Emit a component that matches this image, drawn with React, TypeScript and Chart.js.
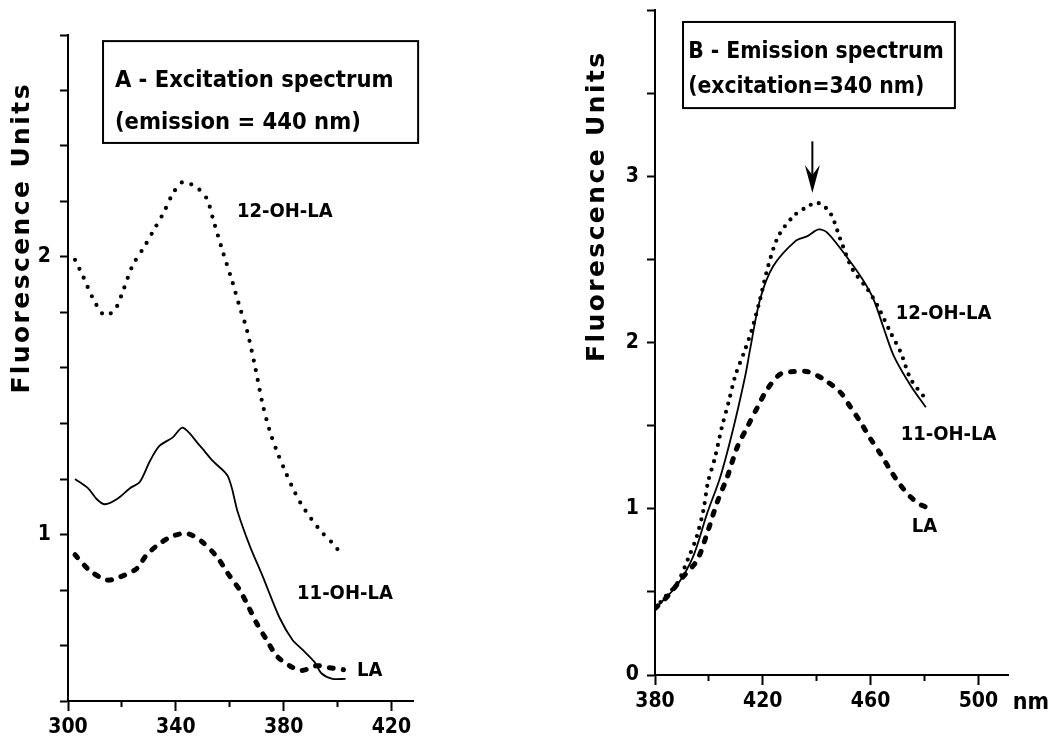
import React, { useEffect, useRef } from "react";
import { Chart, registerables } from "chart.js";

Chart.register(...registerables);

// ---------------- Panel A : excitation spectrum (emission = 440 nm) ----------------
const excX_12OH = [302.6, 305.6, 309.3, 313.5, 317.4, 320.5, 324, 328.5, 332, 335.5, 339, 342.6, 347.8, 351.5, 354, 357.4, 361, 363.7, 366.3, 369.3, 372.2, 374.8, 377.5, 380.5, 383.5, 386.5, 390, 394, 398, 402.2];
const excY_12OH = [1.99, 1.93, 1.85, 1.79, 1.81, 1.88, 1.97, 2.04, 2.1, 2.16, 2.23, 2.27, 2.25, 2.21, 2.13, 2.02, 1.91, 1.82, 1.74, 1.61, 1.47, 1.375, 1.3, 1.23, 1.165, 1.11, 1.06, 1.01, 0.97, 0.92];
const excX_11OH = [302.6, 307.4, 310.7, 313.7, 318.5, 323, 326.7, 330.4, 334, 338.9, 342.6, 348.9, 353.7, 359.3, 363, 367.4, 372.2, 378.5, 383.3, 387, 391.5, 394, 398.1, 403];
const excY_11OH = [1.2, 1.167, 1.127, 1.109, 1.13, 1.167, 1.19, 1.265, 1.32, 1.35, 1.385, 1.32, 1.265, 1.21, 1.08, 0.96, 0.85, 0.7, 0.62, 0.585, 0.54, 0.5, 0.48, 0.48];
const excX_LA = [302.6, 308.1, 314.4, 319.3, 325.5, 329.2, 334, 338.9, 344.4, 349.6, 355.2, 359.3, 363.7, 366.7, 370, 373.7, 377.4, 382.2, 386.7, 392.2, 397, 402.2];
const excY_LA = [0.927, 0.87, 0.836, 0.847, 0.877, 0.927, 0.967, 0.995, 1.003, 0.975, 0.92, 0.86, 0.8, 0.745, 0.68, 0.62, 0.563, 0.527, 0.51, 0.527, 0.52, 0.513];

// ---------------- Panel B : emission spectrum (excitation = 340 nm) ----------------
const emX_12OH = [380, 383.7, 388.2, 392.3, 395.5, 398, 399.6, 402.3, 404.8, 407.3, 409.8, 413.5, 416, 419, 422, 425.8, 431.4, 435.8, 440.3, 445, 448.8, 453.3, 458.9, 462.6, 467.4, 471.2, 474.9, 480.5];
const emY_12OH = [0.4, 0.47, 0.55, 0.7, 0.833, 0.994, 1.155, 1.31, 1.49, 1.64, 1.8, 1.96, 2.08, 2.26, 2.46, 2.64, 2.76, 2.81, 2.84, 2.78, 2.62, 2.44, 2.32, 2.22, 2.06, 1.94, 1.78, 1.66];
const emX_11OH = [380, 381.9, 388.2, 394.1, 399.4, 404.2, 409, 413.5, 415.3, 419, 423.9, 432.1, 436.6, 440.7, 444, 451.4, 457, 461.1, 465, 468.6, 474.9, 480.5];
const emY_11OH = [0.4, 0.43, 0.54, 0.71, 0.975, 1.19, 1.48, 1.8, 1.96, 2.26, 2.46, 2.61, 2.64, 2.68, 2.66, 2.51, 2.38, 2.26, 2.08, 1.92, 1.74, 1.61];
const emX_LA = [380, 385, 390.4, 395.6, 399.4, 403.1, 406.8, 410.5, 414.2, 418, 421.7, 426.5, 431.4, 436.6, 442.5, 448.8, 452.6, 456.3, 460, 463.7, 467.4, 471.2, 474.9, 478, 480.5];
const emY_LA = [0.4, 0.48, 0.59, 0.69, 0.855, 1.04, 1.19, 1.37, 1.49, 1.61, 1.72, 1.81, 1.825, 1.825, 1.78, 1.7, 1.61, 1.52, 1.42, 1.33, 1.23, 1.14, 1.07, 1.03, 1.01];

// ---------------- Axes ----------------
const excXRange = [300, 428];
const excYRange = [0.4, 2.8];
const emXRange = [380, 511];
const emYRange = [0, 4];
const xTickStep = 20;
const xLabelStep = 40;
const excYTickStep = 0.2;
const emYTickStep = 0.5;

// ---------------- Texts ----------------
const seriesNames = ["12-OH-LA", "11-OH-LA", "LA"];
const yAxisTitle = "Fluorescence Units";
const excBoxLines = ["A - Excitation spectrum", "(emission = 440 nm)"];
const emBoxLines = ["B - Emission spectrum", "(excitation=340 nm)"];
const unitLabel = "nm";

const COND = '"DejaVu Sans Condensed", "Liberation Sans Narrow", sans-serif';
const TICK_FONT = { family: COND, weight: "bold" as const, size: 21 };

const zip = (xs: number[], ys: number[]) => xs.map((x, i) => ({ x, y: ys[i] }));

type PanelCfg = {
  xs: number[][];
  ys: number[][];
  xRange: number[];
  yRange: number[];
  yStep: number;
  yMaxLabel: number;
  padTop: number;
  padRight: number;
  yWidth: number;
  xHeight: number;
  yLabelPad: number;
  dotGap: number;
  annot: any;
};

function makePlugin(a: any) {
  return {
    id: "annot",
    afterDraw(chart: any) {
      const { ctx, chartArea, scales } = chart;
      const px = (v: number) => scales.x.getPixelForValue(v);
      const py = (v: number) => scales.y.getPixelForValue(v);
      ctx.save();
      ctx.fillStyle = "#000";
      ctx.strokeStyle = "#000";

      // y-axis title
      ctx.save();
      ctx.translate(chartArea.left + a.yTitle.dx, py(a.yTitle.y));
      ctx.rotate(-Math.PI / 2);
      ctx.font = 'bold 25px "DejaVu Sans", sans-serif';
      (ctx as any).letterSpacing = "2.4px";
      ctx.textAlign = "center";
      ctx.textBaseline = "middle";
      ctx.fillText(yAxisTitle, 0, 0);
      ctx.restore();

      // boxed heading
      const b = a.box;
      ctx.lineWidth = 2;
      ctx.strokeRect(px(b.x0), py(b.y0), px(b.x1) - px(b.x0), py(b.y1) - py(b.y0));
      ctx.font = `bold ${b.size}px ${COND}`;
      ctx.textAlign = "left";
      ctx.textBaseline = "middle";
      b.lines.forEach((t: string, i: number) => ctx.fillText(t, px(b.tx), py(b.ty[i])));

      // curve labels
      ctx.font = `bold 20px ${COND}`;
      a.labels.forEach((l: any) => ctx.fillText(l.text, px(l.x), py(l.y)));

      // unit
      if (a.unit) {
        ctx.font = `bold 23px ${COND}`;
        ctx.fillText(unitLabel, px(a.unit.x), chartArea.bottom + a.unit.dy);
      }

      // arrow
      if (a.arrow) {
        const x = px(a.arrow.x);
        const y0 = py(a.arrow.yTop);
        const y1 = py(a.arrow.yTip);
        ctx.lineWidth = 2;
        ctx.beginPath();
        ctx.moveTo(x, y0);
        ctx.lineTo(x, y1 - 8);
        ctx.stroke();
        ctx.beginPath();
        ctx.moveTo(x, y1);
        ctx.lineTo(x - 7.5, y1 - 28);
        ctx.lineTo(x, y1 - 18);
        ctx.lineTo(x + 7.5, y1 - 28);
        ctx.closePath();
        ctx.fill();
      }
      ctx.restore();
    },
  };
}

function buildChart(canvas: HTMLCanvasElement, p: PanelCfg) {
  const isInt = (v: number) => Math.abs(v - Math.round(v)) < 1e-6;
  return new Chart(canvas, {
    type: "line",
    data: {
      datasets: [
        {
          label: seriesNames[0],
          data: zip(p.xs[0], p.ys[0]),
          borderColor: "#000",
          borderWidth: 4.2,
          borderDash: [0, p.dotGap],
          borderCapStyle: "round",
          pointRadius: 0,
          tension: 0.3,
          fill: false,
        },
        {
          label: seriesNames[1],
          data: zip(p.xs[1], p.ys[1]),
          borderColor: "#000",
          borderWidth: 1.8,
          pointRadius: 0,
          tension: 0.3,
          fill: false,
        },
        {
          label: seriesNames[2],
          data: zip(p.xs[2], p.ys[2]),
          borderColor: "#000",
          borderWidth: 5,
          borderDash: [4, 10],
          borderCapStyle: "round",
          pointRadius: 0,
          tension: 0.3,
          fill: false,
        },
      ],
    },
    options: {
      responsive: false,
      animation: false,
      events: [],
      layout: { padding: { left: 0, top: p.padTop, right: p.padRight, bottom: 0 } },
      plugins: { legend: { display: false }, tooltip: { enabled: false }, title: { display: false } },
      scales: {
        x: {
          type: "linear",
          position: "bottom",
          min: p.xRange[0],
          max: p.xRange[1],
          ticks: {
            stepSize: xTickStep,
            includeBounds: false,
            autoSkip: false,
            maxRotation: 0,
            padding: 4,
            color: "#000",
            font: TICK_FONT,
            callback: (v: any) => ((Number(v) - p.xRange[0]) % xLabelStep === 0 ? String(v) : ""),
          },
          grid: {
            display: true,
            drawOnChartArea: false,
            drawTicks: true,
            tickLength: 10,
            tickWidth: 2,
            tickColor: "#000",
            tickBorderDash: (c: any) =>
              c.tick && (c.tick.value - p.xRange[0]) % xLabelStep === 0 ? [] : [5, 100],
          },
          border: { display: true, color: "#000", width: 2 },
          afterFit: (s: any) => {
            s.height = p.xHeight;
            s.paddingLeft = 0;
            s.paddingRight = 0;
          },
        },
        y: {
          type: "linear",
          position: "left",
          min: p.yRange[0],
          max: p.yRange[1],
          ticks: {
            stepSize: p.yStep,
            autoSkip: false,
            padding: p.yLabelPad,
            color: "#000",
            font: TICK_FONT,
            callback: (v: any) => {
              const n = Number(v);
              return isInt(n) && n <= p.yMaxLabel ? String(Math.round(n)) : "";
            },
          },
          grid: {
            display: true,
            drawOnChartArea: false,
            drawTicks: true,
            tickLength: 8,
            tickWidth: 2,
            tickColor: "#000",
          },
          border: { display: true, color: "#000", width: 2 },
          afterFit: (s: any) => {
            s.width = p.yWidth;
            s.paddingTop = 0;
            s.paddingBottom = 0;
          },
        },
      },
    },
    plugins: [makePlugin(p.annot)],
  } as any);
}

const panelA: PanelCfg = {
  xs: [excX_12OH, excX_11OH, excX_LA],
  ys: [excY_12OH, excY_11OH, excY_LA],
  xRange: excXRange,
  yRange: excYRange,
  yStep: excYTickStep,
  yMaxLabel: 2,
  padTop: 35,
  padRight: 127,
  yWidth: 68,
  xHeight: 43,
  yLabelPad: 9,
  dotGap: 10,
  annot: {
    yTitle: { dx: -46, y: 2.069 },
    box: { x0: 313, x1: 429.9, y0: 2.778, y1: 2.411, tx: 317.4, ty: [2.636, 2.484], lines: excBoxLines, size: 23.5 },
    labels: [
      { text: seriesNames[0], x: 362.7, y: 2.164 },
      { text: seriesNames[1], x: 385, y: 0.785 },
      { text: seriesNames[2], x: 407.2, y: 0.509 },
    ],
  },
};

const panelB: PanelCfg = {
  xs: [emX_12OH, emX_11OH, emX_LA],
  ys: [emY_12OH, emY_11OH, emY_LA],
  xRange: emXRange,
  yRange: emYRange,
  yStep: emYTickStep,
  yMaxLabel: 3,
  padTop: 10,
  padRight: 41,
  yWidth: 115,
  xHeight: 69,
  yLabelPad: 8,
  dotGap: 8.5,
  annot: {
    yTitle: { dx: -58, y: 2.82 },
    box: { x0: 390.4, x1: 491.3, y0: 3.928, y1: 3.41, tx: 392.3, ty: [3.747, 3.536], lines: emBoxLines, size: 22.7 },
    labels: [
      { text: seriesNames[0], x: 469.3, y: 2.17 },
      { text: seriesNames[1], x: 471.2, y: 1.446 },
      { text: seriesNames[2], x: 475.3, y: 0.89 },
    ],
    unit: { x: 512.8, dy: 28 },
    arrow: { x: 438.4, yTop: 3.21, yTip: 2.9 },
  },
};

function Panel({ cfg, left, width }: { cfg: PanelCfg; left: number; width: number }) {
  const ref = useRef<HTMLCanvasElement | null>(null);
  useEffect(() => {
    if (!ref.current) return;
    const chart = buildChart(ref.current, cfg);
    return () => chart.destroy();
  }, [cfg]);
  return (
    <canvas
      ref={ref}
      width={width}
      height={744}
      style={{ position: "absolute", left, top: 0, width, height: 744, display: "block" }}
    />
  );
}

export default function App() {
  return (
    <div style={{ position: "absolute", left: 0, top: 0, width: 1049, height: 744, background: "#fff", overflow: "hidden" }}>
      <Panel cfg={panelA} left={0} width={540} />
      <Panel cfg={panelB} left={540} width={509} />
    </div>
  );
}
